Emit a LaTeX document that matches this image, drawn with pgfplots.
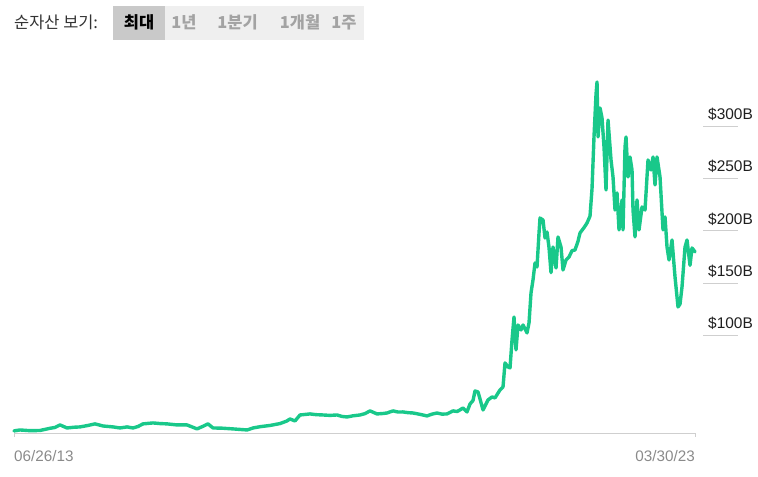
\documentclass[border=0pt]{standalone}
\usepackage{pgfplots}
\pgfplotsset{compat=1.18}
\usepackage{fontspec}
\setmainfont{Liberation Sans}
\newfontfamily\kr{Noto Sans CJK KR}
\definecolor{lg}{HTML}{19C88A}
\definecolor{btnA}{HTML}{C9C9C9}
\definecolor{btnB}{HTML}{EFEFEF}
\definecolor{btntx}{HTML}{A3A3A3}
\definecolor{datetx}{HTML}{8A8A8A}
\definecolor{gridc}{HTML}{CFCFCF}
\begin{document}
\begin{tikzpicture}[x=1bp,y=1bp]
\path (0,0) rectangle (758,477);
% header buttons
\fill[btnA] (113,437) rectangle (165,471);
\fill[btnB] (165,437) rectangle (364,471);
\node[anchor=base west, inner sep=0pt, text=black!80] at (14,448.5) {\kr\fontsize{16.5}{18}\selectfont 순자산 보기:};
\node[anchor=base, inner sep=0pt] at (139,448.5) {\kr\bfseries\fontsize{16.5}{18}\selectfont 최대};
\node[anchor=base, inner sep=0pt, text=btntx] at (184,448.5) {\kr\bfseries\fontsize{16.5}{18}\selectfont 1년};
\node[anchor=base, inner sep=0pt, text=btntx] at (237.5,448.5) {\kr\bfseries\fontsize{16.5}{18}\selectfont 1분기};
\node[anchor=base, inner sep=0pt, text=btntx] at (300,448.5) {\kr\bfseries\fontsize{16.5}{18}\selectfont 1개월};
\node[anchor=base, inner sep=0pt, text=btntx] at (344,448.5) {\kr\bfseries\fontsize{16.5}{18}\selectfont 1주};
\begin{axis}[
  at={(14bp,44bp)}, anchor=south west,
  scale only axis, width=681bp, height=359.4bp,
  xmin=14, xmax=695, ymin=7, ymax=350,
  clip=false,
  axis x line*=bottom, axis y line*=right,
  y axis line style={draw=none},
  x axis line style={gridc, line width=0.8bp},
  xtick={14,695}, xticklabels={},
  x tick style={gridc, line width=0.8bp},
  major tick length=4bp, tick align=outside,
  ytick={100,150,200,250,300},
  yticklabels={\$100B,\$150B,\$200B,\$250B,\$300B},
  y tick style={draw=none},
  yticklabel style={anchor=base west, inner sep=0pt, xshift=9bp, yshift=6.7bp, text=black!88, font=\fontsize{15.5}{17}\selectfont},
]
\pgfplotsinvokeforeach{100,150,200,250,300}{
  \draw[gridc, line width=0.8bp] (axis cs:703,#1) -- (axis cs:738,#1);
}
\node[anchor=base west, inner sep=0pt, text=datetx, font=\fontsize{15.3}{17}\selectfont] at (axis cs:14,7) [yshift=-29bp] {06/26/13};
\node[anchor=base east, inner sep=0pt, text=datetx, font=\fontsize{15.3}{17}\selectfont] at (axis cs:695,7) [yshift=-29bp] {03/30/23};
\addplot[lg, line width=3.4bp, line join=round, line cap=round] coordinates {
(14,9.0) (20,9.9) (30,9.2) (40,9.4) (50,11.5) (55,12.3) (60,14.7) (67,11.8) (74,12.5) (80,12.8) (88,14.2) (95,15.7)
(103,13.7) (113,12.8) (120,11.8) (127,12.8) (133,11.8) (138,13.2) (143,15.7) (153,16.6)
(160,16.0) (167,15.7) (177,14.7) (187,14.7) (192,12.8) (197,10.9) (203,13.4) (208,15.7) (213,11.8) (222,11.6) (233,10.9)
(240,10.4) (247,9.9) (253,11.8) (260,13.0) (270,14.2) (280,16.0) (287,18.5) (290,20.4) (295,18.5) (300,24.2)
(310,25.2) (316,24.5) (323,24.2) (330,23.8) (337,24.2) (342,22.8) (347,22.3) (353,23.4) (360,24.2) (365,25.5) (370,28.1) (377,25.2)
(383,25.6) (387,26.1) (393,28.1) (398,27.0) (403,27.1) (408,26.4) (413,26.1) (420,24.8) (427,23.3) (432,25.0) (437,26.1) (442,25.0) (447,25.2)
(453,28.1) (457,27.5) (460,29.0) (463,30.9) (467,27.1) (470,34.7) (473,38) (475,47.1)
(478,46.2) (480,39.5) (483,29.0) (488,38.5) (492,41.4) (495,40.5) (500,48.1)
(503,51.0) (505,73.9) (508,70.0) (510,69.1) (512,95.8) (514,117.7) (516,86.3)
(518,110.1) (521,105.3) (523,110.1) (527,102.5) (529,112.0) (531,140.7)
(533,153.1) (535,169.3) (537,165.5) (539,197.9) (540,212.2) (543,210.3)
(545,193.1) (547,198.9) (549,184) (551,160) (553,184.5) (556,164.5) (558,194.1)
(561,184.5) (563,162.6) (566,172.1) (569,175.0) (572,181) (575,181.7) (578,190)
(580,197.9) (584,203) (587,207.4) (590,214) (592,240) (594,290) (596,330)
(597,342.0) (598,289.5) (600,317.2) (602,307.6) (604,280.0) (606,238.9)
(608,305.7) (611,267.6) (613,251.3) (615,219.8) (617,236.1) (619,200.8)
(622,229.4) (623,200.8) (625,280.0) (626,289.5) (628,251.3) (630,270.4)
(632,258.0) (633,219.8) (635,194.1) (637,229.4) (639,200.8) (642,222.7)
(645,219.8) (648,267.6) (651,258.0) (653,270.4) (655,243.7) (657,270.4)
(660,251.3) (663,200.8) (665,213.2) (667,184.5) (669,172.1) (672,191.2)
(675,155.9) (678,127.3) (680,130) (682,146.4) (685,184.5) (687,191.2)
(690,167) (692,183.6) (695,179.8)
};
\end{axis}
\end{tikzpicture}
\end{document}
